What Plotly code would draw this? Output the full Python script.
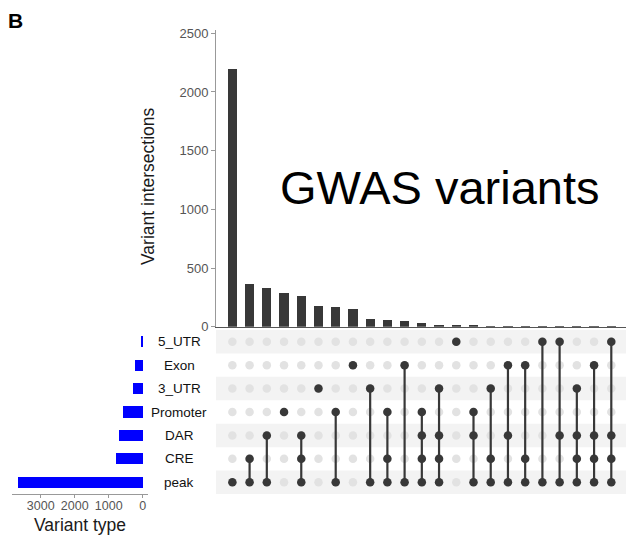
import plotly.graph_objects as go

# ---------------- data ----------------
set_names = ["5_UTR", "Exon", "3_UTR", "Promoter", "DAR", "CRE", "peak"]   # top -> bottom
set_sizes = [30, 246, 285, 600, 717, 805, 3688]

intersection_counts = [2200, 364, 332, 284, 261, 173, 170, 153, 62, 57, 48, 34,
                       17, 11, 9, 6, 5, 3, 2, 2, 1, 1, 1]
intersection_sets = [
    ["peak"],
    ["CRE", "peak"],
    ["DAR", "peak"],
    ["Promoter"],
    ["DAR", "CRE", "peak"],
    ["3_UTR"],
    ["Promoter", "peak"],
    ["Exon"],
    ["3_UTR", "peak"],
    ["Promoter", "CRE", "peak"],
    ["Exon", "peak"],
    ["Promoter", "DAR", "CRE", "peak"],
    ["3_UTR", "DAR", "CRE", "peak"],
    ["5_UTR"],
    ["Promoter", "DAR", "peak"],
    ["3_UTR", "CRE", "peak"],
    ["Exon", "DAR", "peak"],
    ["Exon", "CRE", "peak"],
    ["5_UTR", "peak"],
    ["5_UTR", "DAR", "peak"],
    ["3_UTR", "DAR", "CRE", "peak"],
    ["Exon", "DAR", "CRE", "peak"],
    ["5_UTR", "DAR", "CRE", "peak"],
]
y_ticks = [0, 500, 1000, 1500, 2000, 2500]
size_ticks = [3000, 2000, 1000, 0]

# ---------------- helpers ----------------
OFF = 8                      # page body margin
W, H = 634 - OFF, 542 - OFF
def fx(px):
    return (px - OFF) / W
def fy(py):
    return 1 - (py - OFF) / H

FONT = "Liberation Sans, Arial, Helvetica, sans-serif"
n_cols = len(intersection_counts)
cols = list(range(n_cols))
# row index: peak = 0 (bottom) ... 5_UTR = 6 (top)
row_of = {name: len(set_names) - 1 - i for i, name in enumerate(set_names)}

fig = go.Figure()

# top intersection bars
fig.add_trace(go.Bar(x=cols, y=intersection_counts, width=0.54,
                     marker=dict(color="#383838", line=dict(width=0)),
                     xaxis="x", yaxis="y", showlegend=False, hoverinfo="y"))

# matrix background dots
bx, by = [], []
for c in cols:
    for name in set_names:
        bx.append(c)
        by.append(row_of[name])
fig.add_trace(go.Scatter(x=bx, y=by, mode="markers",
                         marker=dict(color="#e2e2e2", size=8.5),
                         xaxis="x2", yaxis="y2", showlegend=False, hoverinfo="skip"))

# connecting lines
lx, ly = [], []
for c, members in zip(cols, intersection_sets):
    rows = [row_of[m] for m in members]
    if len(rows) > 1:
        lx += [c, c, None]
        ly += [min(rows), max(rows), None]
fig.add_trace(go.Scatter(x=lx, y=ly, mode="lines",
                         line=dict(color="#383838", width=2.2),
                         xaxis="x2", yaxis="y2", showlegend=False, hoverinfo="skip"))

# active dots
dx, dy = [], []
for c, members in zip(cols, intersection_sets):
    for m in members:
        dx.append(c)
        dy.append(row_of[m])
fig.add_trace(go.Scatter(x=dx, y=dy, mode="markers",
                         marker=dict(color="#383838", size=8.5),
                         xaxis="x2", yaxis="y2", showlegend=False, hoverinfo="skip"))

# set size bars
fig.add_trace(go.Bar(y=[row_of[n] for n in set_names], x=set_sizes, orientation="h",
                     width=0.47, marker=dict(color="#0000ff", line=dict(width=0)),
                     xaxis="x3", yaxis="y3", showlegend=False, hoverinfo="x"))

# stripes
shapes = []
for name in set_names:
    r = row_of[name]
    if r % 2 == 0:
        shapes.append(dict(type="rect", xref="paper", yref="y2",
                           x0=fx(216), x1=fx(628), y0=r - 0.5, y1=r + 0.5,
                           fillcolor="#f3f3f3", line=dict(width=0), layer="below"))

annotations = []
for name in set_names:
    annotations.append(dict(text=name, xref="paper", yref="y2", x=fx(179), y=row_of[name],
                            showarrow=False, xanchor="center", yanchor="middle",
                            font=dict(size=13.5, color="#111111", family=FONT)))
annotations += [
    dict(text="GWAS variants", xref="paper", yref="paper", x=fx(440), y=fy(187),
         showarrow=False, xanchor="center", yanchor="middle",
         font=dict(size=47, color="#000000", family=FONT)),
    dict(text="Variant intersections", xref="paper", yref="paper", x=fx(148), y=fy(186),
         showarrow=False, textangle=-90, xanchor="center", yanchor="middle",
         font=dict(size=17.5, color="#1a1a1a", family=FONT)),
    dict(text="Variant type", xref="paper", yref="paper", x=fx(80), y=fy(525),
         showarrow=False, xanchor="center", yanchor="middle",
         font=dict(size=17.5, color="#1a1a1a", family=FONT)),
    dict(text="<b>B</b>", xref="paper", yref="paper", x=fx(15), y=fy(21),
         showarrow=False, xanchor="center", yanchor="middle",
         font=dict(size=21, color="#000000", family=FONT)),
]

x_range = [-0.95, 22.97]
fig.update_layout(
    width=W, height=H,
    margin=dict(l=0, r=0, t=0, b=0, autoexpand=False),
    paper_bgcolor="white", plot_bgcolor="rgba(0,0,0,0)",
    font=dict(family=FONT),
    bargap=0,
    shapes=shapes,
    annotations=annotations,
    xaxis=dict(domain=[fx(216), fx(628)], range=x_range, showticklabels=False,
               showgrid=False, zeroline=False, ticks="", showline=True,
               linecolor="#555555", linewidth=1, anchor="y", fixedrange=True),
    yaxis=dict(domain=[fy(326.7), fy(30)], range=[0, 2528], tickvals=y_ticks,
               showgrid=False, zeroline=False, showline=True, linecolor="#999999",
               linewidth=1, ticks="outside", ticklen=4, tickcolor="#999999",
               tickfont=dict(size=13, color="#555555", family=FONT), anchor="x"),
    xaxis2=dict(domain=[fx(216), fx(628)], range=x_range, visible=False,
                anchor="y2"),
    yaxis2=dict(domain=[fy(494), fy(330)], range=[-0.5, 6.5], visible=False, anchor="x2"),
    xaxis3=dict(domain=[fx(11.7), fx(148.3)], range=[3853, -165], tickvals=size_ticks,
                showgrid=False, zeroline=False, showline=True, linecolor="#999999",
                linewidth=1, ticks="outside", ticklen=3, tickcolor="#999999",
                ticklabelstandoff=-3,
                tickfont=dict(size=12.5, color="#555555", family=FONT), anchor="y3"),
    yaxis3=dict(domain=[fy(494), fy(330)], range=[-0.5, 6.5], visible=False, anchor="x3"),
)

fig.write_html("out.html")
